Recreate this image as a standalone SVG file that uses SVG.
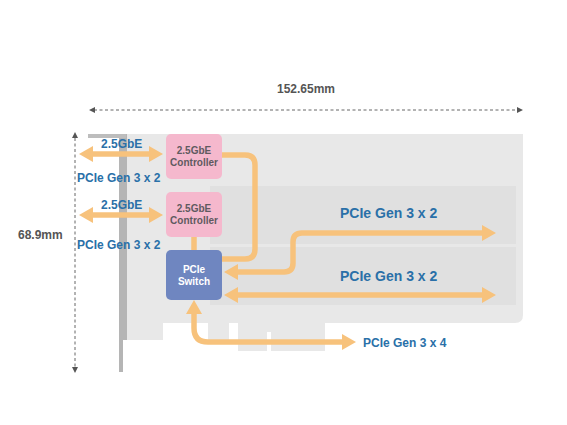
<svg xmlns="http://www.w3.org/2000/svg" width="567" height="425" viewBox="0 0 567 425">
<style>
text{font-family:"Liberation Sans",Arial,sans-serif;font-weight:700}
.dim{fill:#555;font-size:12px}
.blue{fill:#2a70a8;font-size:12px}
.big{fill:#2a70a8;font-size:14px}
.sm{fill:#5f5a60;font-size:10px;text-anchor:middle}
.wh{fill:#fff;font-size:10px;text-anchor:middle}
.line{fill:none;stroke:#f7c27c;stroke-width:5.5}
.head{fill:#f7c27c}
.dash{fill:none;stroke:#666;stroke-width:1;stroke-dasharray:3 2.5}
.board{fill:#e8e8e8}
.slot{fill:#e0e0e0}
</style>
<rect width="567" height="425" fill="#fff"/>
<g id="board">
<path class="board" d="M126 134H523V315Q523 323 515 323H325V351H271V332H267V351H238V323H229V340H208V323H163V340H126Z"/>
<rect class="slot" x="210" y="186" width="306" height="58"/>
<rect class="slot" x="210" y="247" width="306" height="58"/>
<path d="M119 134H127V340H123V372H119Z" fill="#b5b5b5"/>
<rect x="88" y="134" width="38" height="4" fill="#bdbdbd"/>
</g>
<g id="dimensions">
<path class="dash" d="M94 110H518"/>
<path d="M89 110l6-3v6zM523 110l-6-3v6z" fill="#555"/>
<path class="dash" d="M75 138V367"/>
<path d="M75 132l-3 6h6zM75 373l-3-6h6z" fill="#555"/>
<text class="dim" x="277" y="93">152.65mm</text>
<text class="dim" x="18" y="239">68.9mm</text>
</g>
<g id="connectors">
<path class="line" d="M90 154H152"/>
<path class="head" d="M79 154l14-8v16zM163 154l-14-8v16z"/>
<path class="line" d="M90 215H152"/>
<path class="head" d="M79 215l14-8v16zM163 215l-14-8v16z"/>
<path class="line" d="M194 236V250"/>
<path class="line" d="M222 155H245Q255 155 255 165V249Q255 259 245 259H222"/>
<path class="line" d="M236 272H284Q293 272 293 263V242Q293 233 302 233H482"/>
<path class="head" d="M224 272l14-8v16zM496 233l-14-8v16z"/>
<path class="line" d="M236 295H482"/>
<path class="head" d="M224 295l14-8v16zM496 295l-14-8v16z"/>
<path class="line" d="M194 312V328Q194 342 208 342H344"/>
<path class="head" d="M194 300l-8 14h16zM356 342l-14-8v16z"/>
</g>
<g id="controller1">
<rect x="166" y="134" width="56" height="45" rx="5" fill="#f5b8cd"/>
<text class="sm" x="194" y="154">2.5GbE</text>
<text class="sm" x="194" y="166">Controller</text>
</g>
<g id="controller2">
<rect x="166" y="192" width="56" height="45" rx="5" fill="#f5b8cd"/>
<text class="sm" x="194" y="212">2.5GbE</text>
<text class="sm" x="194" y="224">Controller</text>
</g>
<g id="switch">
<rect x="166" y="250" width="56" height="50" rx="5" fill="#6f86c0"/>
<text class="wh" x="194" y="273">PCIe</text>
<text class="wh" x="194" y="285">Switch</text>
</g>
<g id="labels">
<text class="blue" x="101" y="148">2.5GbE</text>
<text class="blue" x="77" y="182">PCIe Gen 3 x 2</text>
<text class="blue" x="101" y="209">2.5GbE</text>
<text class="blue" x="77" y="249">PCIe Gen 3 x 2</text>
<text class="big" x="340" y="218">PCIe Gen 3 x 2</text>
<text class="big" x="340" y="281">PCIe Gen 3 x 2</text>
<text class="blue" x="363" y="347">PCIe Gen 3 x 4</text>
</g>
</svg>
